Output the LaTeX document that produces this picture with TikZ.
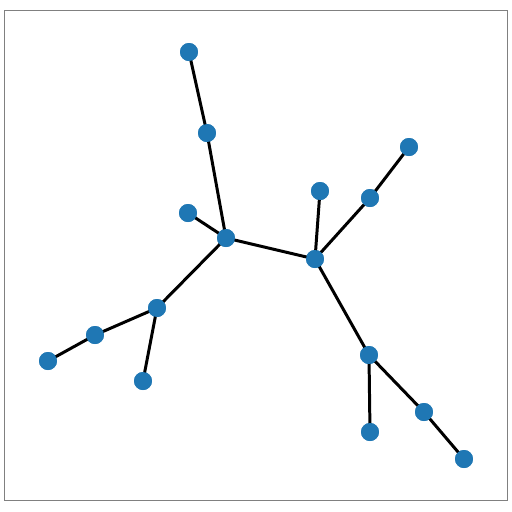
\documentclass[tikz,border=0pt]{standalone}
\definecolor{nodeblue}{HTML}{1F77B4}
\tikzset{
  vertex/.style = {circle, fill = nodeblue, inner sep = 0pt, minimum size = 0.36cm},
  edge/.style = {line width = 1.7pt, black}
}
\begin{document}
\begin{tikzpicture}[x = 0.02cm, y = -0.02cm]
    \useasboundingbox (0,0) rectangle (512,512);
    \draw[gray, line width = 0.6pt] (4.5,10.5) rectangle (507.5,500.5);
    % nodes
    \node[vertex] (n1) at (189,52) {};
    \node[vertex] (n2) at (207,133) {};
    \node[vertex] (n3) at (188,213) {};
    \node[vertex] (n4) at (226,238) {};
    \node[vertex] (n5) at (315,259) {};
    \node[vertex] (n6) at (320,191) {};
    \node[vertex] (n7) at (370,198) {};
    \node[vertex] (n8) at (409,147) {};
    \node[vertex] (n9) at (157,308) {};
    \node[vertex] (n10) at (95,335) {};
    \node[vertex] (n11) at (48,361) {};
    \node[vertex] (n12) at (143,381) {};
    \node[vertex] (n13) at (369,355) {};
    \node[vertex] (n14) at (370,432) {};
    \node[vertex] (n15) at (424,412) {};
    \node[vertex] (n16) at (464,459) {};
    % edges
    \begin{scope}[on background layer/.style = {}]
    \foreach \a/\b in {n1/n2, n2/n4, n3/n4, n4/n5, n4/n9, n9/n10, n10/n11, n9/n12,
                       n5/n6, n5/n7, n7/n8, n5/n13, n13/n14, n13/n15, n15/n16}
        \draw[edge] (\a.center) -- (\b.center);
    \end{scope}
    % redraw nodes on top
    \foreach \n in {n1,n2,n3,n4,n5,n6,n7,n8,n9,n10,n11,n12,n13,n14,n15,n16}
        \fill[nodeblue] (\n.center) circle (0.18cm);
\end{tikzpicture}
\end{document}
